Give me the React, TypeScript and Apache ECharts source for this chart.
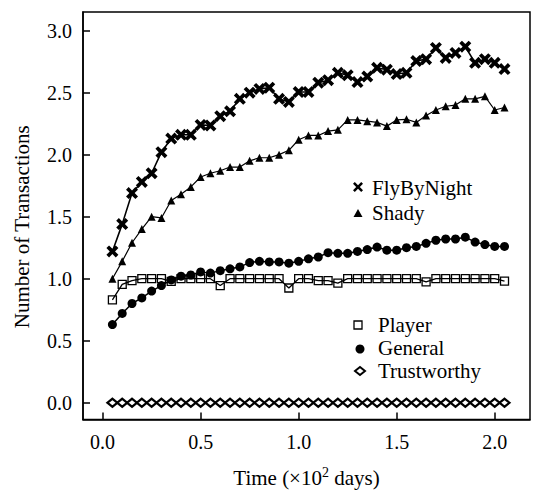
import React, { useEffect, useRef } from "react";
import * as echarts from "echarts";

const FONT = "Liberation Serif, Times New Roman, serif";

const days = [
  0.05, 0.1, 0.15, 0.2, 0.25, 0.3, 0.35, 0.4, 0.45, 0.5,
  0.55, 0.6, 0.65, 0.7, 0.75, 0.8, 0.85, 0.9, 0.95, 1.0,
  1.05, 1.1, 1.15, 1.2, 1.25, 1.3, 1.35, 1.4, 1.45, 1.5,
  1.55, 1.6, 1.65, 1.7, 1.75, 1.8, 1.85, 1.9, 1.95, 2.0, 2.05,
];

const flyByNight = [
  1.22, 1.44, 1.69, 1.78, 1.85, 2.02, 2.13, 2.16, 2.16, 2.24,
  2.235, 2.31, 2.35, 2.45, 2.5, 2.53, 2.54, 2.45, 2.425, 2.505,
  2.505, 2.58, 2.6, 2.66, 2.64, 2.585, 2.63, 2.7, 2.685, 2.65,
  2.66, 2.755, 2.77, 2.86, 2.78, 2.82, 2.87, 2.74, 2.77, 2.74, 2.69,
];

const shady = [
  1.0, 1.14, 1.29, 1.4, 1.5, 1.49, 1.63, 1.68, 1.74, 1.82,
  1.85, 1.87, 1.9, 1.9, 1.95, 1.975, 1.975, 2.0, 2.035, 2.12,
  2.155, 2.155, 2.19, 2.2, 2.28, 2.28, 2.27, 2.26, 2.23, 2.28,
  2.285, 2.26, 2.315, 2.36, 2.39, 2.4, 2.45, 2.45, 2.47, 2.36, 2.38,
];

const player = [
  0.83, 0.955, 0.985, 1.0, 1.0, 1.0, 0.978, 1.0, 1.0, 1.0,
  1.0, 0.945, 1.0, 1.0, 1.0, 1.0, 1.0, 1.0, 0.925, 1.0,
  1.0, 0.985, 0.985, 0.965, 1.0, 1.0, 1.0, 1.0, 1.0, 1.0,
  1.0, 1.0, 0.975, 1.0, 1.0, 1.0, 1.0, 1.0, 1.0, 1.0, 0.98,
];

const general = [
  0.63, 0.72, 0.8, 0.845, 0.9, 0.945, 0.99, 1.02, 1.03, 1.055,
  1.045, 1.065, 1.08, 1.095, 1.13, 1.14, 1.135, 1.135, 1.125, 1.14,
  1.16, 1.175, 1.21, 1.205, 1.205, 1.22, 1.235, 1.255, 1.23, 1.23,
  1.25, 1.26, 1.285, 1.31, 1.32, 1.32, 1.335, 1.295, 1.275, 1.26, 1.26,
];

const trustworthy = [
  0, 0, 0, 0, 0, 0, 0, 0, 0, 0,
  0, 0, 0, 0, 0, 0, 0, 0, 0, 0,
  0, 0, 0, 0, 0, 0, 0, 0, 0, 0,
  0, 0, 0, 0, 0, 0, 0, 0, 0, 0, 0,
];

const xTicks = [0, 0.5, 1.0, 1.5, 2.0];
const yTicks = [0, 0.5, 1.0, 1.5, 2.0, 2.5, 3.0];

const seriesNames = ["FlyByNight", "Shady", "Player", "General", "Trustworthy"];

const X_PATH =
  "path://M0,2.2 L2.2,0 L5,2.8 L7.8,0 L10,2.2 L7.2,5 L10,7.8 L7.8,10 L5,7.2 L2.2,10 L0,7.8 L2.8,5 Z";

function pairs(ys: number[]) {
  return days.map((d, i) => [d, ys[i]]);
}

export default function App() {
  const ref = useRef<HTMLDivElement>(null);

  useEffect(() => {
    if (!ref.current) return;
    const chart = echarts.init(ref.current, undefined, { renderer: "svg" });
    const black = "#000";

    const legendText = (name: string, x: number, y: number) => ({
      type: "text",
      x,
      y,
      style: {
        text: name,
        fontFamily: FONT,
        fontSize: 21,
        fill: black,
        align: "left",
        verticalAlign: "middle",
      },
      silent: true,
    });

    chart.setOption({
      animation: false,
      backgroundColor: "#fff",
      textStyle: { fontFamily: FONT },
      grid: {
        left: 83,
        right: 6,
        top: 12,
        bottom: 67,
        show: true,
        borderColor: black,
        borderWidth: 1.5,
        backgroundColor: "transparent",
      },
      xAxis: {
        type: "value",
        min: -0.1,
        max: 2.18,
        name: "Time (×10{sup|2} days)",
        nameLocation: "middle",
        nameGap: 46,
        nameTextStyle: {
          fontFamily: FONT,
          fontSize: 21,
          color: black,
          rich: {
            sup: { fontFamily: FONT, fontSize: 14, color: black, padding: [0, 0, 10, 0] },
          },
        },
        axisLine: { onZero: false, lineStyle: { color: black, width: 1.5 } },
        axisTick: {
          inside: true,
          length: 7,
          customValues: xTicks,
          lineStyle: { color: black, width: 1.5 },
        },
        axisLabel: {
          customValues: xTicks,
          formatter: (v: number) => v.toFixed(1),
          fontFamily: FONT,
          fontSize: 20,
          color: black,
          margin: 12,
        },
        splitLine: { show: false },
      },
      yAxis: {
        type: "value",
        min: -0.135,
        max: 3.15,
        name: "Number of Transactions",
        nameLocation: "middle",
        nameGap: 51,
        nameTextStyle: {
          fontFamily: FONT,
          fontSize: 21,
          color: black,
          padding: [0, 22, 0, 0],
        },
        axisLine: { onZero: false, lineStyle: { color: black, width: 1.5 } },
        axisTick: {
          inside: true,
          length: 7,
          customValues: yTicks,
          lineStyle: { color: black, width: 1.5 },
        },
        axisLabel: {
          customValues: yTicks,
          formatter: (v: number) => v.toFixed(1),
          fontFamily: FONT,
          fontSize: 20,
          color: black,
          margin: 11,
        },
        splitLine: { show: false },
      },
      series: [
        {
          name: seriesNames[4],
          type: "line",
          data: pairs(trustworthy),
          symbol: "diamond",
          symbolSize: [10, 8],
          lineStyle: { color: black, width: 1.2 },
          itemStyle: { color: "#fff", borderColor: black, borderWidth: 2.2 },
          z: 2,
        },
        {
          name: seriesNames[2],
          type: "line",
          data: pairs(player),
          symbol: "rect",
          symbolSize: 8,
          lineStyle: { color: black, width: 1.3 },
          itemStyle: { color: "transparent", borderColor: black, borderWidth: 1.3 },
          z: 3,
        },
        {
          name: seriesNames[3],
          type: "line",
          data: pairs(general),
          symbol: "circle",
          symbolSize: 9,
          lineStyle: { color: black, width: 1.5 },
          itemStyle: { color: black },
          z: 4,
        },
        {
          name: seriesNames[1],
          type: "line",
          data: pairs(shady),
          symbol: "triangle",
          symbolSize: 8,
          lineStyle: { color: black, width: 1.2 },
          itemStyle: { color: black },
          z: 5,
        },
        {
          name: seriesNames[0],
          type: "line",
          data: pairs(flyByNight),
          symbol: X_PATH,
          symbolSize: 12,
          lineStyle: { color: black, width: 1.6 },
          itemStyle: { color: black },
          z: 6,
        },
      ],
      graphic: [
        {
          type: "polygon",
          shape: {
            points: [
              [353, 183.8], [354.8, 182], [358, 185.2], [361.2, 182], [363, 183.8], [359.8, 187],
              [363, 190.2], [361.2, 192], [358, 188.8], [354.8, 192], [353, 190.2], [356.2, 187],
            ],
          },
          style: { fill: black },
          silent: true,
        },
        legendText(seriesNames[0], 372, 188),
        {
          type: "polygon",
          shape: { points: [[358, 209], [362.5, 217], [353.5, 217]] },
          style: { fill: black },
          silent: true,
        },
        legendText(seriesNames[1], 372, 213),
        {
          type: "rect",
          shape: { x: 354, y: 321, width: 8, height: 8 },
          style: { fill: "#fff", stroke: black, lineWidth: 1.3 },
          silent: true,
        },
        legendText(seriesNames[2], 378, 325),
        {
          type: "circle",
          shape: { cx: 360, cy: 349, r: 4.5 },
          style: { fill: black },
          silent: true,
        },
        legendText(seriesNames[3], 378, 348),
        {
          type: "polygon",
          shape: { points: [[360, 367], [365, 371], [360, 375], [355, 371]] },
          style: { fill: "#fff", stroke: black, lineWidth: 2 },
          silent: true,
        },
        legendText(seriesNames[4], 378, 371),
      ],
    });

    return () => chart.dispose();
  }, []);

  return (
    <div
      ref={ref}
      style={{ position: "absolute", left: 0, top: 0, width: 536, height: 493 }}
    />
  );
}
